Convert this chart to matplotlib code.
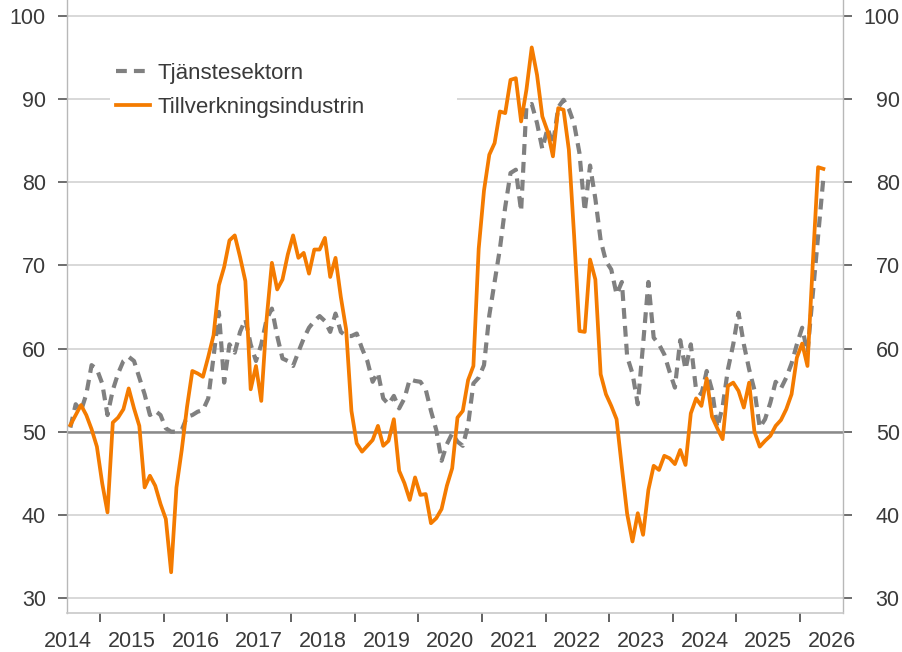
#!/usr/bin/env python3
"""Tjänstesektorn vs Tillverkningsindustrin, monthly index 2014-2025."""

import matplotlib

matplotlib.use("Agg")
import matplotlib.pyplot as plt
import matplotlib.transforms as mtransforms
from matplotlib.patches import Rectangle
import numpy as np

# monthly values, Jan 2014 .. Nov 2025
tjanste = [
    50.5, 53.3, 52.5, 54.5, 58.0, 57.5, 55.8, 52.0, 55.0, 57.0, 58.5, 59.0,
    58.5, 56.5, 54.5, 52.0, 52.5, 52.0, 50.4, 50.0, 50.0, 50.2, 51.8, 52.0,
    52.4, 52.6, 54.0, 59.0, 64.4, 55.9, 60.5, 59.5, 62.0, 63.5, 60.5, 58.5,
    60.5, 63.5, 64.8, 61.5, 58.8, 58.5, 57.9, 59.6, 61.2, 62.5, 63.3, 63.9,
    63.3, 62.0, 64.2, 62.0, 61.5, 61.5, 61.8, 60.0, 58.5, 56.0, 57.1, 54.0,
    53.3, 54.3, 52.8, 54.0, 56.3, 56.1, 56.0, 55.1, 52.5, 50.2, 46.5, 48.5,
    49.8, 48.8, 48.3, 50.8, 55.8, 56.5, 58.0, 64.0, 68.0, 72.0, 77.0, 81.1,
    81.5, 76.5, 89.2, 89.4, 87.1, 84.0, 86.5, 84.5, 89.0, 89.9, 88.8, 87.0,
    83.5, 76.5, 82.0, 78.0, 73.0, 70.5, 69.5, 66.5, 68.0, 59.0, 57.0, 53.3,
    60.5, 68.0, 61.3, 60.5, 59.3, 57.2, 55.3, 61.0, 57.5, 60.5, 55.0, 54.5,
    57.3, 55.0, 50.5, 53.0, 57.5, 60.5, 64.3, 60.5, 57.5, 55.0, 50.5, 51.5,
    53.5, 56.0, 55.2, 56.5, 58.2, 60.5, 62.5, 59.5, 66.5, 73.5, 80.5,
]
tillverkning = [
    50.8, 52.0, 53.2, 52.0, 50.3, 48.2, 43.8, 40.3, 51.1, 51.7, 52.7, 55.2,
    52.8, 50.7, 43.3, 44.7, 43.5, 41.3, 39.5, 33.1, 43.3, 47.8, 53.0, 57.3,
    57.0, 56.6, 59.0, 61.6, 67.6, 69.8, 73.0, 73.6, 71.0, 68.1, 55.1, 57.9,
    53.7, 63.5, 70.3, 67.1, 68.3, 71.3, 73.6, 70.9, 71.5, 69.0, 71.9, 71.9,
    73.3, 68.6, 70.9, 66.2, 62.3, 52.5, 48.6, 47.6, 48.3, 49.0, 50.7, 48.3,
    48.9, 51.5, 45.3, 43.8, 41.8, 44.5, 42.4, 42.5, 39.0, 39.6, 40.7, 43.5,
    45.6, 51.7, 52.5, 56.2, 57.9, 72.0, 79.0, 83.3, 84.7, 88.5, 88.3, 92.3,
    92.5, 87.3, 91.1, 96.2, 92.9, 87.9, 86.1, 83.1, 88.9, 88.7, 83.9, 73.5,
    62.1, 62.0, 70.7, 68.3, 56.9, 54.5, 53.1, 51.5, 45.7, 40.1, 36.8, 40.2,
    37.6, 43.0, 45.9, 45.4, 47.1, 46.8, 46.1, 47.8, 46.0, 52.2, 54.0, 53.1,
    56.4, 51.8, 50.4, 49.1, 55.5, 55.9, 54.9, 52.9, 55.9, 50.0, 48.2, 48.9,
    49.5, 50.7, 51.4, 52.7, 54.5, 58.9, 60.6, 57.9, 70.2, 81.8, 81.6,
]
years = list(range(2014, 2027))
y_ticks = [30, 40, 50, 60, 70, 80, 90, 100]
labels = ["Tjänstesektorn", "Tillverkningsindustrin"]

ORANGE = "#F47B00"
GREY = "#808080"
TEXT = "#3a3a3a"

plt.rcParams["font.family"] = ["Liberation Sans", "DejaVu Sans"]

x = 2014 + (np.arange(len(tillverkning)) + 0.4) / 12

fig = plt.figure(figsize=(9.03, 6.52), dpi=100)
ax = fig.add_axes([0.0739, 0.0598, 0.8593, 0.9402])

ax.set_ylim(28.2, 101.9)
ax.set_xlim(2013.976, 2026.17)

for v in y_ticks:
    ax.axhline(v, color="#d2d2d2", lw=1.2, zorder=0)
ax.axhline(50, color="#8a8a8a", lw=1.8, zorder=1)

# white legend area, wider than the legend itself
ax.add_patch(Rectangle((0.06, 0.80), 0.443, 0.115, transform=ax.transAxes,
                       facecolor="white", edgecolor="none", zorder=0.5))

ax.plot(x, tjanste, color=GREY, lw=3.0, linestyle=(0, (2.6, 1.7)),
        label=labels[0], zorder=3)
ax.plot(x, tillverkning, color=ORANGE, lw=2.7, label=labels[1], zorder=4)

# x axis: year labels at Jan, tick marks at mid-year
ax.set_xticks(years)
ax.set_xticklabels([str(y) for y in years])
ax.set_xticks([y + 0.5 for y in years[:-1]], minor=True)
ax.tick_params(axis="x", which="major", length=0, pad=13, labelsize=15.5,
               labelcolor=TEXT)
ax.tick_params(axis="x", which="minor", length=6.5, width=1.3, color="#555555")

# y axis on both sides, right labels right-aligned near the image edge
ax.set_yticks(y_ticks)
ax.tick_params(axis="y", which="both", left=True, right=True, labelleft=True,
               labelright=True, length=6.5, width=1.2, color="#555555",
               labelsize=15.5, labelcolor=TEXT, pad=8.5)
offset = mtransforms.ScaledTranslation(0.362, 0, fig.dpi_scale_trans)
for tick in ax.yaxis.get_major_ticks():
    tick.label2.set_horizontalalignment("right")
    tick.label2.set_transform(tick.label2.get_transform() + offset)

for side in ("left", "right"):
    ax.spines[side].set_color("#b8b8b8")
    ax.spines[side].set_linewidth(1.0)
ax.spines["bottom"].set_color("#c8c8c8")
ax.spines["bottom"].set_linewidth(1.2)
ax.spines["top"].set_visible(False)

leg = ax.legend(loc="upper left", bbox_to_anchor=(0.042, 0.925), fontsize=16,
                frameon=True, facecolor="white", edgecolor="none",
                framealpha=1.0, handlelength=1.55, handletextpad=0.3,
                labelspacing=0.6, borderpad=0.25, fancybox=False)
for t in leg.get_texts():
    t.set_color(TEXT)

fig.savefig("out.png", dpi=100)
